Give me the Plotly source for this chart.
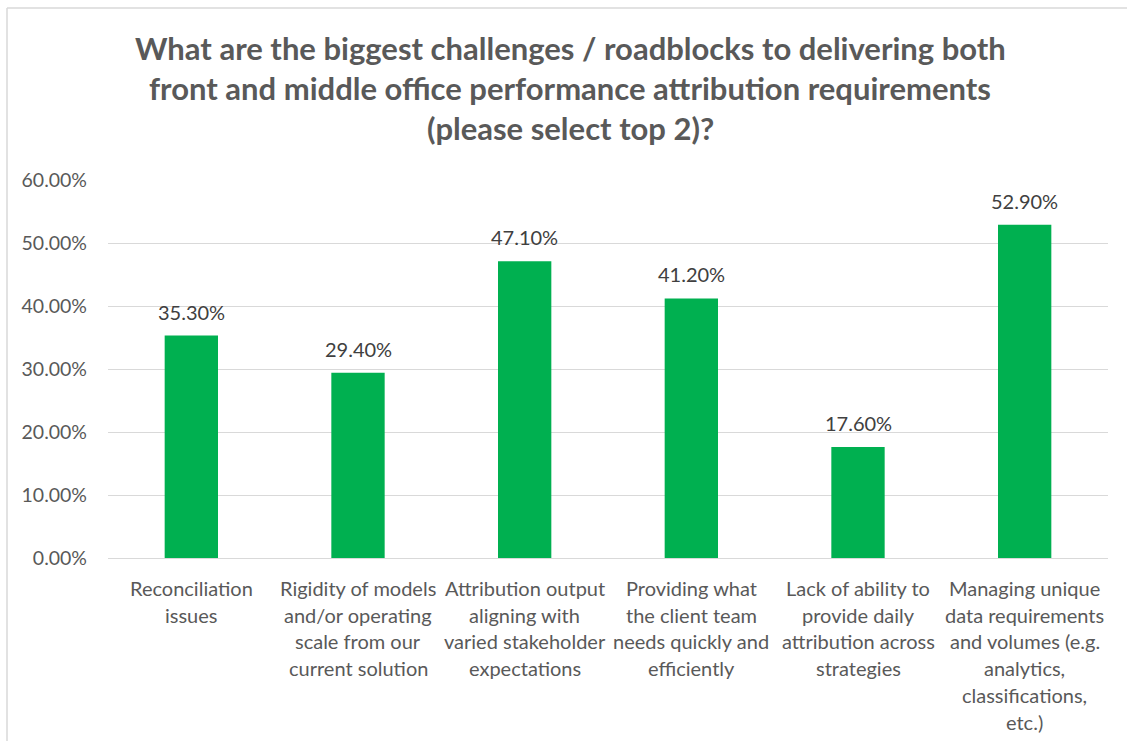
import plotly.graph_objects as go

categories = [
    "Reconciliation<br>issues",
    "Rigidity of models<br>and/or operating<br>scale from our<br>current solution",
    "Attribution output<br>aligning with<br>varied stakeholder<br>expectations",
    "Providing what<br>the client team<br>needs quickly and<br>efficiently",
    "Lack of ability to<br>provide daily<br>attribution across<br>strategies",
    "Managing unique<br>data requirements<br>and volumes (e.g.<br>analytics,<br>classifications,<br>etc.)",
]
values = [0.353, 0.294, 0.471, 0.412, 0.176, 0.529]
value_labels = ["35.30%", "29.40%", "47.10%", "41.20%", "17.60%", "52.90%"]
title_lines = [
    "What are the biggest challenges / roadblocks to delivering both",
    "front and middle office performance attribution requirements",
    "(please select top 2)?",
]
y_ticks = [0, 0.1, 0.2, 0.3, 0.4, 0.5, 0.6]
y_tick_labels = ["0.00%", "10.00%", "20.00%", "30.00%", "40.00%", "50.00%", "60.00%"]

FONT = "Lato"
x_keys = list(range(len(categories)))

fig = go.Figure()
fig.add_trace(go.Bar(
    x=x_keys, y=values, width=0.32,
    marker=dict(color="#00B050", line=dict(width=0)),
    hoverinfo="skip",
))

annotations = []
# title lines
for i, line in enumerate(title_lines):
    annotations.append(dict(
        text="<b>" + line + "</b>", xref="paper", yref="paper",
        x=(570 - 108) / 1000, y=1, yshift=(180 - 48) - 40 * i,
        xanchor="center", yanchor="middle",
        showarrow=False, font=dict(family=FONT, size=31, color="#595959"),
    ))
# value labels above bars
for k, (v, lab) in enumerate(zip(values, value_labels)):
    annotations.append(dict(
        text=lab, xref="x", yref="y", x=k, y=v, yshift=24,
        xanchor="center", yanchor="middle", showarrow=False,
        font=dict(family=FONT, size=20, color="#404040"),
    ))
# category labels, line by line
for k, cat in enumerate(categories):
    for j, line in enumerate(cat.split("<br>")):
        annotations.append(dict(
            text=line, xref="x", yref="paper", x=k, y=0,
            yshift=-(30 + 26.7 * j), xanchor="center", yanchor="middle",
            showarrow=False, font=dict(family=FONT, size=20, color="#595959"),
        ))

fig.update_layout(
    width=1127, height=741,
    margin=dict(l=108, r=19, t=180, b=183, autoexpand=False),
    paper_bgcolor="white", plot_bgcolor="white",
    showlegend=False,
    annotations=annotations,
    xaxis=dict(range=[-0.5, 5.5], showticklabels=False, showgrid=False,
               zeroline=False, showline=False, fixedrange=True),
    yaxis=dict(range=[0, 0.6], tickvals=y_ticks, ticktext=y_tick_labels,
               showgrid=True, gridcolor="#D9D9D9", gridwidth=1,
               zeroline=True, zerolinecolor="#D9D9D9", zerolinewidth=1,
               showline=False, ticks="", ticklabelstandoff=20,
               tickfont=dict(family=FONT, size=19.5, color="#595959"),
               fixedrange=True),
    shapes=[
        dict(type="line", xref="paper", yref="paper",
             x0=(7 - 108) / 1000, x1=(1127 - 108) / 1000 + 0.05,
             y0=(558 - 8) / 378, y1=(558 - 8) / 378,
             line=dict(color="#D9D9D9", width=1.5)),
        dict(type="line", xref="paper", yref="paper",
             x0=(7 - 108) / 1000, x1=(7 - 108) / 1000,
             y0=(558 - 8) / 378, y1=(558 - 760) / 378,
             line=dict(color="#D9D9D9", width=1.5)),
    ],
)

fig.write_html("out.html")
